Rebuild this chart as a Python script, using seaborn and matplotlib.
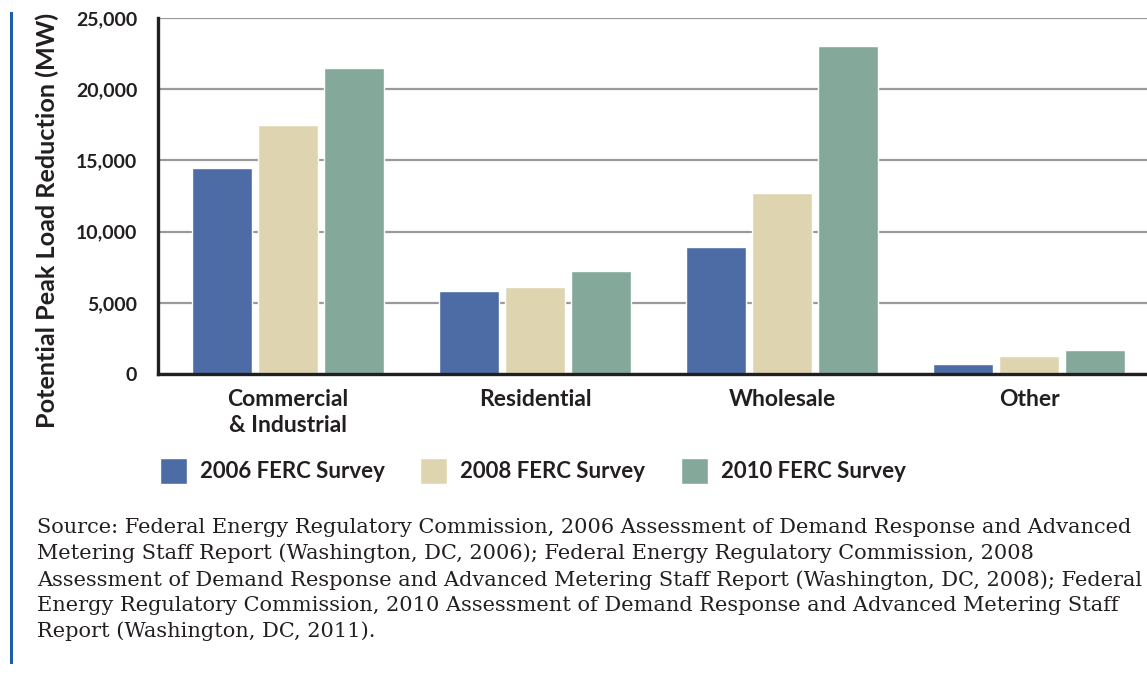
"""Potential peak load reduction by customer class, FERC surveys 2006-2010."""

import matplotlib

matplotlib.use("Agg")
import matplotlib.pyplot as plt
import pandas as pd
import seaborn as sns
from matplotlib.patches import Rectangle
from matplotlib.ticker import FuncFormatter, FixedLocator

categories = ["Commercial\n& Industrial", "Residential", "Wholesale", "Other"]
surveys = ["2006 FERC Survey", "2008 FERC Survey", "2010 FERC Survey"]
survey_2006 = [14500, 5850, 8950, 700]
survey_2008 = [17500, 6100, 12700, 1250]
survey_2010 = [21500, 7250, 23000, 1700]
y_ticks = [0, 5000, 10000, 15000, 20000, 25000]
colors = ["#4D6CA6", "#DED5B0", "#84A99B"]

source_text = (
    "Source: Federal Energy Regulatory Commission, 2006 Assessment of Demand Response and Advanced\n"
    "Metering Staff Report (Washington, DC, 2006); Federal Energy Regulatory Commission, 2008\n"
    "Assessment of Demand Response and Advanced Metering Staff Report (Washington, DC, 2008); Federal\n"
    "Energy Regulatory Commission, 2010 Assessment of Demand Response and Advanced Metering Staff\n"
    "Report (Washington, DC, 2011)."
)

rows = []
for survey, values in zip(surveys, [survey_2006, survey_2008, survey_2010]):
    for cat, val in zip(categories, values):
        rows.append({"category": cat, "survey": survey, "value": val})
df = pd.DataFrame(rows)

sns.set_style("white")
plt.rcParams["font.family"] = ["Lato", "DejaVu Sans"]
dark = "#231F20"

fig = plt.figure(figsize=(11.47, 6.75), dpi=100)
ax = fig.add_axes([158 / 1147, 1 - 374 / 675, 1 - 158 / 1147, (374 - 18) / 675])

sns.barplot(
    data=df, x="category", y="value", hue="survey", palette=colors,
    width=0.8, gap=0.09, saturation=1, ax=ax, errorbar=None,
)

# category slots are ~247 px wide, the left spine sits a little left of the first slot
x_left = -0.5 - 6.5 / 247
x_right = x_left + (1147 - 158) / 247
ax.set_xlim(x_left, x_right)
ax.set_ylim(0, 25000)
ax.set_yticks(y_ticks)
ax.yaxis.set_major_formatter(FuncFormatter(lambda v, _: f"{int(v):,}"))
ax.yaxis.grid(True, color="#9A9A9C", linewidth=1.6)
ax.set_axisbelow(True)

for side in ["top", "right"]:
    ax.spines[side].set_visible(False)
for side in ["left", "bottom"]:
    ax.spines[side].set_color(dark)
    ax.spines[side].set_linewidth(2.4)

ax.tick_params(axis="y", length=0, pad=15, labelsize=14, labelcolor=dark)
for lbl in ax.get_yticklabels():
    lbl.set_fontweight("bold")
ax.tick_params(axis="x", which="major", length=0, pad=11, labelsize=16.5, labelcolor=dark)
for lbl in ax.get_xticklabels():
    lbl.set_fontweight("bold")
    lbl.set_linespacing(1.3)
ax.xaxis.set_minor_locator(FixedLocator([x_left, 0.5, 1.5, 2.5]))
ax.tick_params(axis="x", which="minor", length=9, width=2.4, color=dark, direction="out")

ax.set_xlabel("")
ax.set_ylabel("Potential Peak Load Reduction (MW)", fontsize=18.2, fontweight="bold",
              color=dark, va="center")
ax.yaxis.set_label_coords((47 - 158) / 989, (374 - 220) / 356)

handles, labels = ax.get_legend_handles_labels()
ax.get_legend().remove()
fig.legend(
    handles, labels, loc="center left", bbox_to_anchor=(140 / 1147, 1 - 471 / 675),
    ncol=3, frameon=False, handlelength=1.2, handleheight=1.45,
    handletextpad=0.6, columnspacing=1.6, prop={"weight": "bold", "size": 16},
    labelcolor=dark,
)

fig.text(37 / 1147, 1 - 518 / 675, source_text, ha="left", va="top",
         family=["DejaVu Serif"], fontsize=15,
         linespacing=1.42, color=dark)

fig.add_artist(Rectangle((10 / 1147, 1 - 664 / 675), 3 / 1147, (664 - 12) / 675,
                         transform=fig.transFigure, color="#1F5FA9", lw=0))

fig.savefig("out.png", dpi=100)
plt.close(fig)
